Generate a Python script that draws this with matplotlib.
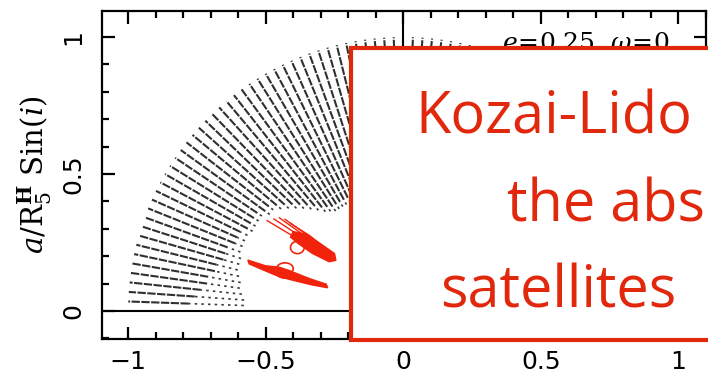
import numpy as np
import matplotlib
matplotlib.use("Agg")
import matplotlib.pyplot as plt
from matplotlib.patches import Rectangle, Polygon, Ellipse
from matplotlib.ticker import MultipleLocator

plt.rcParams["mathtext.fontset"] = "dejavuserif"

# ---------------- data ----------------
# inclination of each stable-orbit line (deg) and the radii a/R_H where dots exist
inclinations = np.arange(178, 71, -2)
r_sparse = [0.58, 0.58, 0.59, 0.60, 0.60, 0.61, 0.62, 0.62, 0.62, 0.63, 0.63, 0.63, 0.63, 0.62, 0.62,
            0.62, 0.62, 0.60, 0.60, 0.58, 0.56, 0.54, 0.52, 0.50, 0.48,
            0.46, 0.45, 0.44, 0.44, 0.44, 0.44, 0.44, 0.44, 0.44, 0.44, 0.44, 0.44, 0.44, 0.44,
            0.44, 0.44, 0.44, 0.44, 0.44, 0.44, 0.44, 0.44, 0.44, 0.44, 0.44, 0.44, 0.44, 0.44, 0.44]
r_dense = [0.78, 0.76, 0.74, 0.72, 0.72, 0.70, 0.70, 0.68, 0.68, 0.68, 0.66, 0.66, 0.66, 0.64, 0.64,
           0.64, 0.64, 0.62, 0.62, 0.60, 0.58, 0.56, 0.54, 0.52, 0.50,
           0.48, 0.47, 0.46, 0.46, 0.46, 0.46, 0.46, 0.46, 0.46, 0.46, 0.46, 0.46, 0.46, 0.46,
           0.46, 0.46, 0.46, 0.46, 0.46, 0.46, 0.46, 0.46, 0.46, 0.46, 0.46, 0.46, 0.46, 0.46, 0.46]
r_outer = 1.0

# red (evolving) tracks
track_a_strands = [
    ([-0.495, -0.42, -0.34], [0.330, 0.285, 0.240]),
    ([-0.470, -0.40, -0.32], [0.336, 0.290, 0.240]),
    ([-0.450, -0.38, -0.30], [0.340, 0.290, 0.235]),
    ([-0.430, -0.36, -0.28], [0.335, 0.285, 0.225]),
    ([-0.410, -0.34, -0.26], [0.320, 0.275, 0.212]),
]
track_a_body_x = [-0.40, -0.36, -0.30, -0.25, -0.245, -0.27, -0.33, -0.38, -0.41]
track_a_body_y = [0.290, 0.282, 0.245, 0.210, 0.185, 0.180, 0.210, 0.245, 0.270]
track_a_loop = (-0.385, 0.232)

track_b_body_x = [-0.565, -0.50, -0.45, -0.40, -0.34, -0.28, -0.275, -0.33, -0.40, -0.45, -0.50, -0.56]
track_b_body_y = [0.186, 0.165, 0.160, 0.142, 0.118, 0.098, 0.085, 0.095, 0.112, 0.125, 0.146, 0.172]
track_b_loop = (-0.43, 0.155)

xticks = [-1, -0.5, 0, 0.5, 1]
xticklabels = ["\u22121", "\u22120.5", "0", "0.5", "1"]
yticks = [0, 0.5, 1]
yticklabels = ["0", "0.5", "1"]

box_lines = ["Kozai-Lido", "the abs", "satellites"]

# ---------------- figure ----------------
fig = plt.figure(figsize=(7.08, 3.77), dpi=100)
ax = fig.add_axes([102 / 708, 38 / 377, 604 / 708, 328 / 377])
ax.set_xlim(-1.095, 1.1)
ax.set_ylim(-0.102, 1.095)

# fan of stable orbits
for inc, rs, rd in zip(inclinations, r_sparse, r_dense):
    t = np.deg2rad(inc)
    c, s = np.cos(t), np.sin(t)
    ax.plot([rd * c, r_outer * c], [rd * s, r_outer * s], color="#303030", lw=1.5,
            dashes=(4, 0.7), zorder=2)
    if rd > rs:
        ax.plot([rs * c, rd * c], [rs * s, rd * s], color="#3a3a3a", lw=1.2,
                dashes=(1.5, 2.5), zorder=2)

red = "#f2230c"
for xs, ys in track_a_strands:
    ax.plot(xs, ys, color=red, lw=1.0, zorder=3)
ax.add_patch(Polygon(np.column_stack([track_a_body_x, track_a_body_y]), closed=True,
                     fc=red, ec=red, lw=1, zorder=3))
ax.add_patch(Ellipse(track_a_loop, 0.05, 0.045, fill=False, ec=red, lw=1.2, zorder=3))
ax.add_patch(Polygon(np.column_stack([track_b_body_x, track_b_body_y]), closed=True,
                     fc=red, ec=red, lw=1, zorder=3))
ax.add_patch(Ellipse(track_b_loop, 0.06, 0.042, fill=False, ec=red, lw=1.2, zorder=3))
ax.add_patch(Ellipse((track_b_loop[0], track_b_loop[1] - 0.02), 0.055, 0.03, fill=False,
                     ec=red, lw=1.0, zorder=3))

ax.axhline(0, color="black", lw=1.5, zorder=2)
ax.axvline(0, color="black", lw=1.5, zorder=2)

# axes styling
for sp in ax.spines.values():
    sp.set_linewidth(1.6)
ax.set_xticks(xticks)
ax.set_xticklabels(xticklabels)
ax.set_yticks(yticks)
ax.set_yticklabels(yticklabels, rotation=90, va="center")
ax.xaxis.set_minor_locator(MultipleLocator(0.1))
ax.yaxis.set_minor_locator(MultipleLocator(0.1))
ax.tick_params(which="both", direction="in", top=True, right=True, width=1.6)
ax.tick_params(which="major", length=9, labelsize=18)
ax.tick_params(axis="x", which="major", pad=8)
ax.tick_params(axis="y", which="major", pad=12)
ax.tick_params(which="minor", length=5)

ax.set_ylabel(r"$a/\mathrm{R}_5^{\mathbf{H}}\ \mathrm{Sin}(i)$", fontsize=21, va="center")
ax.yaxis.set_label_coords(-0.111, 0.5)

ax.text(0.94, 0.881, r"$e\!=\!0.25\ \ \omega\!=\!0$", transform=ax.transAxes,
        ha="right", va="baseline", fontsize=18, zorder=1)

# overlay box
box_color = "#e2280c"
fig.patches.append(Rectangle((351 / 708, 37 / 377), 0.6, 292 / 377, transform=fig.transFigure,
                             fc="white", ec=box_color, lw=3, zorder=10))
font = ["Open Sans", "DejaVu Sans"]
starts = [(415, 133), (507, 222), (440, 308)]
texts = []
for (px, py), s in zip(starts, box_lines):
    texts.append(fig.text(px / 708, 1 - py / 377, s, color=box_color, fontsize=46,
                          family=font, ha="left", va="baseline", zorder=11))

# shrink the box text (same size for all lines) so that every line stays inside the canvas
renderer = fig.canvas.get_renderer()
size = 46
while size > 20:
    right = max(t.get_window_extent(renderer).x1 for t in texts)
    if right <= 706:
        break
    size -= 0.5
    for t in texts:
        t.set_fontsize(size)

fig.savefig("out.png", dpi=100)
